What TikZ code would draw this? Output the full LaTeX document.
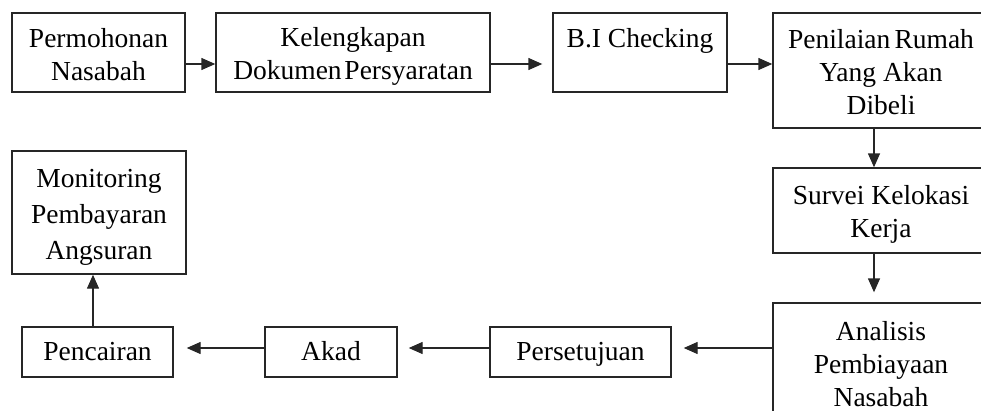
\documentclass[tikz,border=0pt]{standalone}
\usepackage{fontspec}
\setmainfont{Liberation Serif}
\usetikzlibrary{arrows.meta}
\newcommand\tstr{\rule{0pt}{27pt}}
\newcommand\bstr{\rule[-5pt]{0pt}{5pt}}
\begin{document}
\begin{tikzpicture}[x=1pt,y=-1pt,
  box/.style={draw=black!85,line width=1.4pt,inner sep=0pt,align=center,
    font=\fontsize{27.5}{33}\selectfont},
  one/.style={box,text height=22pt,text depth=6pt},
  arr/.style={draw=black!85,line width=1.4pt,-{Triangle[length=14pt,width=12pt]}}]
\useasboundingbox (0,0) rectangle (981,410);
\clip (0,0) rectangle (981,410);
% top row
\node[box,minimum width=173pt,minimum height=79pt] (perm) at (98.5,52.5) {\tstr Permohonan\\Nasabah\bstr};
\node[box,minimum width=274pt,minimum height=79pt] (kel) at (353,52.5) {\tstr Kelengkapan\\Dokumen\hspace{-0.15em} Persyaratan\bstr};
\node[box,minimum width=174pt,minimum height=79pt] (bi) at (640,52.5) {\tstr B.I Checking\\\bstr};
\node[box,minimum width=216pt,minimum height=115pt] (pen) at (881,70.5) {\tstr Penilaian\hspace{-0.1em} Rumah\\Yang Akan\\Dibeli\bstr};
% right column
\node[box,minimum width=216pt,minimum height=85pt] (sur) at (881,210.5) {\tstr Survei Kelokasi\\Kerja\bstr};
\node[box,minimum width=216pt,minimum height=118pt] (ana) at (881,362) {\tstr Analisis\\Pembiayaan\\Nasabah\bstr};
% bottom row
\node[one,minimum width=181pt,minimum height=50pt] (per) at (580.5,352) {Persetujuan};
\node[one,minimum width=132pt,minimum height=50pt] (akad) at (331,352) {Akad};
\node[one,minimum width=151pt,minimum height=50pt] (pc) at (97.5,352) {Pencairan};
\node[box,minimum width=174pt,minimum height=123pt,font=\fontsize{27.5}{36}\selectfont] (mon) at (99,212.5) {\tstr Monitoring\\Pembayaran\\Angsuran\bstr};
% connectors
\draw[arr] ([yshift=-11.5pt]perm.east) -- ([yshift=-11.5pt]perm.east -| kel.west);
\draw[arr,shorten >=10pt] ([yshift=-11.5pt]kel.east) -- ([yshift=-11.5pt]kel.east -| bi.west);
\draw[arr] ([yshift=-11.5pt]bi.east) -- ([yshift=-11.5pt]bi.east -| pen.west);
\draw[arr] ([xshift=-7pt]pen.south) -- ([xshift=-7pt]sur.north);
\draw[arr,shorten >=10pt] ([xshift=-7pt]sur.south) -- ([xshift=-7pt]ana.north);
\draw[arr,shorten >=12pt] (ana.west |- 0,348) -- (per.east |- 0,348);
\draw[arr,shorten >=11pt] (per.west |- 0,348) -- (akad.east |- 0,348);
\draw[arr,shorten >=13pt] (akad.west |- 0,348) -- (pc.east |- 0,348);
\draw[arr] ([xshift=-4.5pt]pc.north) -- ([xshift=-4.5pt]pc.north |- mon.south);
\end{tikzpicture}
\end{document}
